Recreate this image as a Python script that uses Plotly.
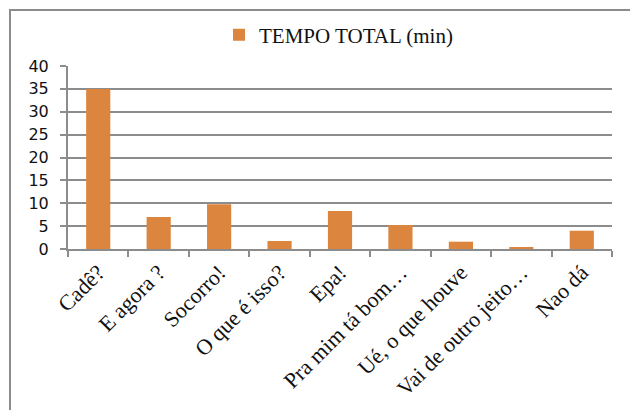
import plotly.graph_objects as go

categories = ["Cadê?", "E agora ?", "Socorro!", "O que é isso?", "Epa!",
              "Pra mim tá bom…", "Ué, o que houve", "Vai de outro jeito…", "Nao dá"]
tempo_total = [35, 7.0, 9.8, 1.75, 8.3, 5.25, 1.6, 0.4, 4.0]
series_name = "TEMPO TOTAL (min)"
y_ticks = [0, 5, 10, 15, 20, 25, 30, 35, 40]

OFF = 8  # default page body margin
W, H = 638 - OFF, 410 - OFF
ml, mr, mt = 68 - OFF, 26, 66 - OFF
pw, ph = 544, 183
mb = H - mt - ph

def px_x(x):  # page pixel -> paper
    return (x - OFF - ml) / pw

def px_y(y):
    return (mt + ph - (y - OFF)) / ph

grid = "#8c8c8c"
bar_color = "#DC853F"

fig = go.Figure(go.Bar(
    x=categories, y=tempo_total, name=series_name,
    marker=dict(color=bar_color, line=dict(width=0)),
    showlegend=True,
))

fig.update_layout(
    width=W, height=H,
    margin=dict(l=ml, r=mr, t=mt, b=mb, autoexpand=False),
    paper_bgcolor="white", plot_bgcolor="white",
    bargap=0.6,
    showlegend=True,
    legend=dict(orientation="h", x=px_x(219), xanchor="left",
                y=px_y(35), yanchor="middle",
                font=dict(family="Liberation Serif", size=21, color="#111"),
                bgcolor="rgba(0,0,0,0)"),
    xaxis=dict(
        tickson="boundaries", ticks="outside", ticklen=6, tickwidth=2, tickcolor=grid,
        showline=True, linecolor=grid, linewidth=2, showgrid=False,
        tickangle=-45, automargin=False,
        tickfont=dict(family="Liberation Serif", size=22, color="#111"),
        fixedrange=True,
    ),
    yaxis=dict(
        range=[0, 40], tickvals=y_ticks, ticks="outside", ticklen=6, tickwidth=2,
        tickcolor=grid, showline=True, linecolor=grid, linewidth=2,
        showgrid=True, gridcolor=grid, gridwidth=2, zeroline=False,
        tickfont=dict(family="DejaVu Sans", size=16, color="#111"),
        ticklabelstandoff=8, automargin=False,
    ),
    shapes=[dict(type="rect", xref="paper", yref="paper",
                 x0=px_x(10), x1=px_x(700), y0=px_y(430), y1=px_y(10),
                 line=dict(color=grid, width=2), fillcolor="rgba(0,0,0,0)",
                 layer="below")],
)

fig.write_html("out.html")
